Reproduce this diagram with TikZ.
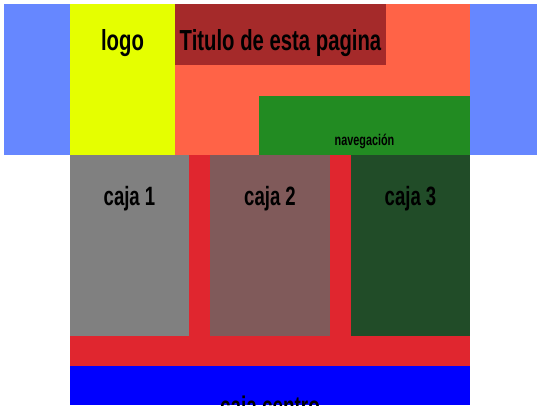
\documentclass[tikz,border=0pt]{standalone}
\usepackage{fontspec}
\newfontfamily\boxfont[FakeStretch=0.7]{Liberation Sans Bold}
\definecolor{sideblue}{HTML}{6687FF}
\definecolor{logoyellow}{HTML}{E5FF00}
\definecolor{headtomato}{HTML}{FF6347}
\definecolor{titlebrown}{HTML}{A52A2A}
\definecolor{navgreen}{HTML}{228B22}
\definecolor{cajagray}{HTML}{808080}
\definecolor{cajarose}{HTML}{805A5A}
\definecolor{cajadark}{HTML}{214C28}
\definecolor{bandred}{HTML}{E0262F}
\definecolor{centroblue}{HTML}{0000FF}
\tikzset{
  area/.style={draw=none, inner sep=0pt, outer sep=0pt},
  lbl/.style={anchor=base, inner sep=0pt, text=black},
}
\begin{document}
\begin{tikzpicture}[x=1pt,y=-1pt]
\useasboundingbox (0,0) rectangle (540,405);
\clip (0,0) rectangle (540,405);
% header
\fill[sideblue] (3.5,4) rectangle (69.5,155);
\fill[sideblue] (470,4) rectangle (536.5,155);
\fill[headtomato] (175,4) rectangle (470,155);
\fill[logoyellow] (69.5,4) rectangle (175,155);
\fill[titlebrown] (175,4) rectangle (386,64.5);
\fill[navgreen] (259,95.5) rectangle (470,155);
% content
\fill[bandred] (69.5,155) rectangle (470,366);
\fill[cajagray] (69.5,155) rectangle (189,336);
\fill[cajarose] (210,155) rectangle (330,336);
\fill[cajadark] (351,155) rectangle (470,336);
\fill[centroblue] (69.5,366) rectangle (470,405);
% labels
\node[lbl, font=\boxfont\fontsize{29}{29}\selectfont] (logo) at (122.5,50) {logo};
\node[lbl, font=\boxfont\fontsize{29}{29}\selectfont] (titulo) at (280.5,50) {Titulo de esta pagina};
\node[lbl, font=\boxfont\fontsize{15.5}{15.5}\selectfont] (nav) at (364.5,145.7) {navegación};
\node[lbl, font=\boxfont\fontsize{26.5}{26.5}\selectfont] (caja1) at (129.5,205.7) {caja 1};
\node[lbl, font=\boxfont\fontsize{26.5}{26.5}\selectfont] (caja2) at (270,205.7) {caja 2};
\node[lbl, font=\boxfont\fontsize{26.5}{26.5}\selectfont] (caja3) at (410.5,205.7) {caja 3};
\node[lbl, font=\boxfont\fontsize{27}{27}\selectfont] (centro) at (270,415) {caja centro};
\end{tikzpicture}
\end{document}
